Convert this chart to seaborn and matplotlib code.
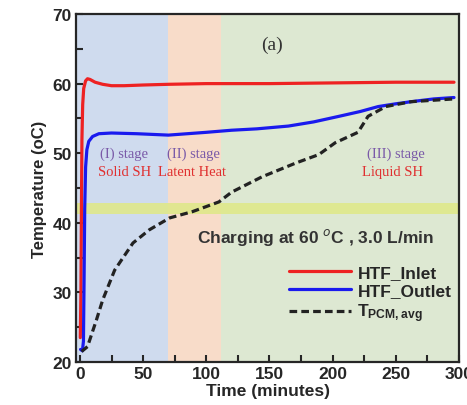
import numpy as np
import pandas as pd
import seaborn as sns
import matplotlib
matplotlib.use("Agg")
from matplotlib import pyplot as plt
from matplotlib.ticker import MultipleLocator

# values
inlet_t = [0.3, 0.8, 1.2, 1.6, 2.2, 3.0, 4.5, 6, 8, 12, 18, 25, 35, 50, 70, 100, 150, 200, 250, 296]
inlet_T = [23.5, 30, 42, 52, 57, 59.3, 60.4, 60.7, 60.6, 60.2, 59.9, 59.7, 59.7, 59.8, 59.9, 60.0, 60.0, 60.1, 60.2, 60.2]

outlet_t = [0.5, 2.0, 2.8, 3.3, 3.8, 4.5, 5.5, 7, 10, 15, 25, 45, 70, 100, 120, 140, 165, 185, 205, 222, 236, 250, 262, 280, 296]
outlet_T = [21.8, 21.6, 23, 32, 42, 48, 50.5, 51.7, 52.4, 52.8, 52.9, 52.8, 52.6, 53.0, 53.3, 53.5, 53.9, 54.5, 55.3, 56.0, 56.7, 57.1, 57.4, 57.8, 58.0]

pcm_t = [1.3, 6, 13, 18, 27.5, 42, 55, 71, 89, 110, 120, 144, 171, 189, 202, 220, 228, 242, 262, 296]
pcm_T = [21.5, 22.2, 26, 28.9, 33.2, 37.1, 39.0, 40.7, 41.6, 43.0, 44.4, 46.6, 48.6, 49.8, 51.5, 53.0, 55.3, 56.7, 57.4, 57.8]

series_names = ["HTF_Inlet", "HTF_Outlet", r"$\mathbf{T_{PCM,avg}}$"]
series_colors = ["#ee2222", "#1a1aee", "#222222"]

stages = [(-3, 70, "#cfdbee"), (70, 112, "#f8dcc9"), (112, 300, "#dde8d2")]
band = (41.2, 42.9)

rows = []
for name, tt, TT in zip(series_names, [inlet_t, outlet_t, pcm_t], [inlet_T, outlet_T, pcm_T]):
    for a, b in zip(tt, TT):
        rows.append((name, a, b))
df = pd.DataFrame(rows, columns=["Series", "Time", "Temperature"])

sns.set_style("ticks")
plt.rcParams["font.family"] = ["Liberation Sans", "DejaVu Sans"]
plt.rcParams["mathtext.fontset"] = "custom"
plt.rcParams["mathtext.bf"] = "Liberation Sans:bold"
plt.rcParams["mathtext.rm"] = "Liberation Sans"

fig = plt.figure(figsize=(4.67, 4.06), dpi=100)
ax = fig.add_axes([0.163, 0.106, 0.82, 0.857])

for x0, x1, c in stages:
    ax.axvspan(x0, x1, color=c, lw=0, zorder=0)
ax.axhspan(band[0], band[1], color="#dfe88a", alpha=0.9, lw=0, zorder=0.5)

sns.lineplot(data=df, x="Time", y="Temperature", hue="Series", style="Series",
             hue_order=series_names, style_order=series_names,
             palette=dict(zip(series_names, series_colors)),
             dashes={series_names[0]: "", series_names[1]: "", series_names[2]: (2.4, 1.3)},
             lw=2.3, sort=False, estimator=None, ax=ax, zorder=3)

ax.set_xlim(-3, 300)
ax.set_ylim(20, 70)
ax.xaxis.set_major_locator(MultipleLocator(50))
ax.xaxis.set_minor_locator(MultipleLocator(25))
ax.yaxis.set_major_locator(MultipleLocator(10))
ax.yaxis.set_minor_locator(MultipleLocator(5))
ax.tick_params(which="both", direction="in", width=1.5, top=False, right=False)
ax.tick_params(which="major", length=5, labelsize=12.5, pad=3)
ax.tick_params(which="minor", length=5)
for lab in ax.get_xticklabels() + ax.get_yticklabels():
    lab.set_fontweight("bold")
for s in ax.spines.values():
    s.set_linewidth(1.6)

ax.set_xlabel("Time (minutes)", fontsize=12.5, fontweight="bold", labelpad=1)
ax.set_ylabel("Temperature (oC)", fontsize=12, fontweight="bold", labelpad=4)

serif = ["Liberation Serif", "DejaVu Serif"]
ax.text(152, 65.6, "(a)", fontsize=14, family=serif, color="#333333", ha="center", va="center")
ax.text(35, 50, "(I) stage", fontsize=10.5, family=serif, color="#7a5aa8", ha="center", va="center")
ax.text(35, 47.3, "Solid SH", fontsize=10.5, family=serif, color="#e03030", ha="center", va="center")
ax.text(90, 50, "(II) stage", fontsize=10.5, family=serif, color="#7a5aa8", ha="center", va="center")
ax.text(89, 47.3, "Latent Heat", fontsize=10.5, family=serif, color="#e03030", ha="center", va="center")
ax.text(250, 50, "(III) stage", fontsize=10.5, family=serif, color="#7a5aa8", ha="center", va="center")
ax.text(247, 47.3, "Liquid SH", fontsize=10.5, family=serif, color="#e03030", ha="center", va="center")
ax.text(186, 38, "Charging at 60 $^{o}$C , 3.0 L/min", fontsize=12.5, fontweight="bold",
        color="#333333", ha="center", va="center")

leg = ax.legend(loc="upper left", bbox_to_anchor=(0.533, 0.305), frameon=False,
                handlelength=3.6, handletextpad=0.35, labelspacing=0.2,
                prop={"weight": "bold", "size": 12.5}, borderpad=0)
for line in leg.get_lines():
    line.set_linewidth(2.3)

fig.savefig("out.png", dpi=100)
